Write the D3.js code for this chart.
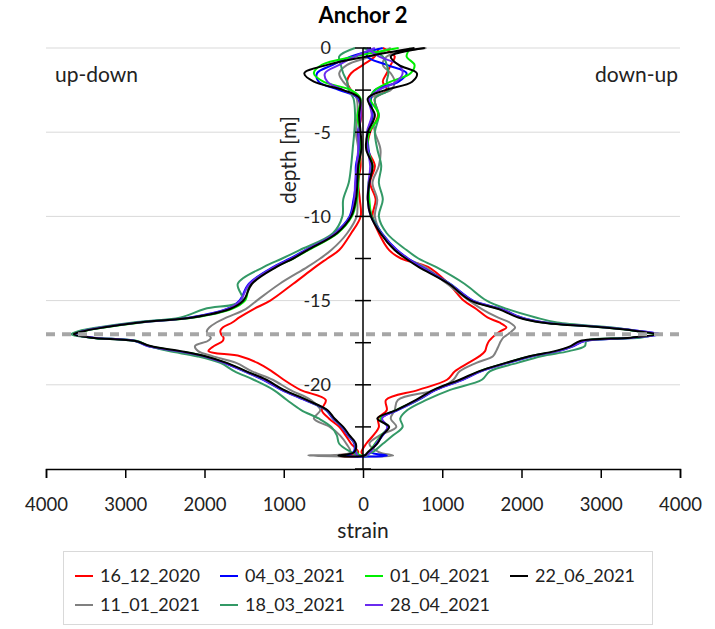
<!DOCTYPE html>
<html>
<head>
  <meta charset="utf-8">
  <title>Anchor 2</title>
  <script src="https://d3js.org/d3.v7.min.js"></script>
  <style>
    body, html { margin: 0; padding: 0; background: #fff; }
    svg { display: block; font-family: Lato, "Open Sans", sans-serif; }
    .grid line { stroke: #d9d9d9; stroke-width: 1; }
    .series { fill: none; stroke-width: 2; stroke-linejoin: round; }
  </style>
</head>
<body>
<svg width="715" height="629"></svg>
<script>
  // depth grid shared by every profile (m, negative downwards)
  const depth = [0,-0.5,-1,-1.5,-2,-2.5,-3, -4,-5,-6,-7,-8,-9,-10,
    -11,-12,-12.5,-13,-14,-15,-15.5,-16, -16.3,-16.6,-16.8,-17,-17.2,-17.4,-17.7,-18,
    -18.3,-18.7,-19.2,-19.7,-20.3,-20.9,-21.5,-22, -22.5,-23,-23.5,-24,-24.2];

  // strain: "left" = up-down branch, "right" = down-up branch
  const s16_12_2020_left = [200,150,0,-150,-200,-150,-60, -20,-60,-40,-30,-60,-40,-30,
    -150,-300,-450,-600,-880,-1170,-1380,-1560, -1650,-1770,-1800,-1790,-1760,-1770,-1880,-1950,
    -1550,-1330,-1150,-1000,-790,-470,-520,-430, -300,-220,-150,-60,-370];
  const s16_12_2020_right = [250,400,350,300,250,300,150, 190,90,60,150,90,160,120,
    200,330,480,820,1080,1270,1430,1570, 1720,1810,1740,1680,1630,1590,1560,1540,
    1470,1330,1160,1060,700,290,300,190, 200,130,40,-20,0];

  const s11_01_2021_left = [350,100,-200,-300,-250,-150,-80, -70,-90,-60,-70,-60,-70,-80,
    -200,-400,-540,-700,-1050,-1340,-1480,-1720, -1850,-1940,-1970,-1960,-1920,-1960,-2120,-2080,
    -1900,-1600,-1400,-1140,-920,-660,-540,-620, -420,-290,-210,-160,-690];
  const s11_01_2021_right = [800,300,250,350,400,350,100, 120,150,220,200,120,180,150,
    230,400,560,780,1060,1340,1500,1700, 1850,1920,1880,1830,1770,1740,1710,1680,
    1640,1430,1220,1140,920,440,400,350, 420,210,80,200,380];

  const s04_03_2021_left = [250,-150,-380,-580,-560,-300,-60, -40,-60,-50,-90,-90,-120,-170,
    -360,-730,-920,-1130,-1440,-1560,-1720,-2180, -2850,-3310,-3540,-3640,-3420,-2880,-2720,-2360,
    -2020,-1760,-1500,-1260,-1030,-740,-470,-380, -270,-190,-110,-120,-200];
  const s04_03_2021_right = [100,50,300,550,450,150,100, 120,60,70,110,80,70,110,
    240,430,570,740,1100,1390,1750,2000, 2300,3090,3490,3760,3430,2800,2660,2470,
    2140,1830,1490,1260,920,700,440,230, 310,250,170,100,300];

  const s18_03_2021_left = [-100,-300,-280,-250,-200,-180,-120, -100,-110,-130,-150,-180,-250,-260,
    -380,-800,-1020,-1250,-1580,-1520,-2000,-2300, -2900,-3350,-3580,-3680,-3440,-2880,-2700,-2450,
    -2100,-1800,-1620,-1380,-1130,-960,-780,-560, -400,-330,-300,-150,-60];
  const s18_03_2021_right = [0,250,300,320,300,320,150, 200,150,180,230,200,250,200,
    300,550,700,920,1280,1560,1820,2180, 2450,3150,3450,3680,3500,2820,2800,2600,
    2250,1950,1600,1500,1100,800,560,470, 500,380,250,120,0];

  const s01_04_2021_left = [450,-100,-520,-620,-500,-150,-30, -70,-40,-30,-50,-60,-80,-140,
    -320,-690,-880,-1100,-1420,-1490,-1660,-2130, -2800,-3270,-3510,-3640,-3420,-2850,-2700,-2330,
    -2000,-1730,-1480,-1240,-1010,-720,-460,-370, -260,-180,-100,-80,-30];
  const s01_04_2021_right = [600,550,650,600,350,150,90, 200,80,60,120,70,80,110,
    230,410,550,720,1090,1370,1730,1980, 2270,3060,3450,3700,3400,2780,2640,2450,
    2110,1810,1470,1240,900,690,420,220, 320,230,150,80,50];

  const s28_04_2021_left = [150,-100,-300,-480,-450,-250,-50, -30,-50,-60,-80,-100,-110,-160,
    -350,-720,-900,-1120,-1430,-1550,-1710,-2160, -2830,-3300,-3530,-3630,-3400,-2860,-2710,-2350,
    -2010,-1750,-1490,-1250,-1020,-730,-460,-370, -260,-180,-100,-90,-60];
  const s28_04_2021_right = [50,200,450,500,420,200,80, 110,50,60,90,70,60,100,
    230,420,560,730,1090,1380,1740,1990, 2290,3080,3480,3750,3420,2790,2650,2460,
    2120,1820,1480,1250,910,690,430,240, 310,240,160,90,40];

  const s22_06_2021_left = [650,50,-450,-740,-620,-250,-40, -50,-30,-20,-60,-70,-90,-150,
    -330,-700,-880,-1090,-1400,-1510,-1680,-2150, -2820,-3280,-3510,-3650,-3430,-2870,-2680,-2300,
    -1990,-1720,-1470,-1220,-1000,-710,-450,-360, -250,-170,-90,-110,-310];
  const s22_06_2021_right = [780,350,450,680,620,280,60, 150,60,40,120,80,60,100,
    220,400,540,700,1080,1360,1710,1960, 2250,3050,3440,3700,3380,2740,2620,2420,
    2100,1800,1460,1220,890,670,420,180, 330,240,180,60,20];

  const seriesNames = ["16_12_2020", "11_01_2021", "04_03_2021", "18_03_2021", "01_04_2021", "28_04_2021", "22_06_2021"];
  const seriesColors = ["#ff0000", "#808080", "#0000ff", "#339966", "#00ee00", "#6a2bef", "#000000"];
  const seriesLeft = [s16_12_2020_left, s11_01_2021_left, s04_03_2021_left, s18_03_2021_left, s01_04_2021_left, s28_04_2021_left, s22_06_2021_left];
  const seriesRight = [s16_12_2020_right, s11_01_2021_right, s04_03_2021_right, s18_03_2021_right, s01_04_2021_right, s28_04_2021_right, s22_06_2021_right];

  const xTicks = [-4000, -3000, -2000, -1000, 0, 1000, 2000, 3000, 4000];
  const yTicks = [0, -2.5, -5, -7.5, -10, -12.5, -15, -17.5, -20, -22.5, -25];
  const yLabels = [0, -5, -10, -15, -20];
  const markDepth = -17;
  // legend order (rows of four, as in the picture)
  const legendOrder = ["16_12_2020", "04_03_2021", "01_04_2021", "22_06_2021", "11_01_2021", "18_03_2021", "28_04_2021"];

  const svg = d3.select("svg");
  const x = d3.scaleLinear().domain([-4000, 4000]).range([46, 680]);
  const y = d3.scaleLinear().domain([0, -25]).range([48, 469]);

  // horizontal gridlines
  svg.append("g").attr("class", "grid")
    .selectAll("line").data(yLabels).join("line")
    .attr("x1", x(-4000)).attr("x2", x(4000))
    .attr("y1", d => y(d)).attr("y2", d => y(d));

  // x axis at the bottom, labels shown as magnitudes
  const xAxis = svg.append("g")
    .attr("transform", `translate(0,${y(-25)})`)
    .call(d3.axisBottom(x).tickValues(xTicks).tickSize(9).tickPadding(20)
      .tickFormat(d => Math.abs(d)));
  xAxis.select(".domain").attr("stroke", "#000").attr("stroke-width", 1.5);
  xAxis.selectAll(".tick line").attr("stroke", "#000").attr("stroke-width", 1.5);
  xAxis.selectAll("text").attr("font-size", 18.5).attr("fill", "#222").attr("font-family", "Lato");

  // profiles: down the left branch, back up the right branch
  const line = d3.line()
    .x(d => x(d[0])).y(d => y(d[1]))
    .curve(d3.curveCatmullRom.alpha(0.5));

  const plot = svg.append("g");
  seriesNames.forEach((name, k) => {
    const pts = depth.map((d, i) => [seriesLeft[k][i], d])
      .concat(depth.map((d, i) => [seriesRight[k][i], d]).reverse());
    plot.append("path")
      .attr("class", "series")
      .attr("stroke", seriesColors[k])
      .attr("stroke-width", name === "22_06_2021" ? 2.4 : 2)
      .attr("d", line(pts));
  });

  // dashed marker at the peak depth
  svg.append("line")
    .attr("x1", x(-4000)).attr("x2", x(4000))
    .attr("y1", y(markDepth)).attr("y2", y(markDepth))
    .attr("stroke", "#a6a6a6").attr("stroke-width", 4)
    .attr("stroke-dasharray", "9,7");

  // y axis through strain = 0, ticks crossing the line
  const yAxis = svg.append("g");
  yAxis.append("line")
    .attr("x1", x(0)).attr("x2", x(0))
    .attr("y1", y(0)).attr("y2", y(-25))
    .attr("stroke", "#000").attr("stroke-width", 1.5);
  yAxis.selectAll(".tk").data(yTicks).join("line")
    .attr("class", "tk")
    .attr("x1", x(0) - 8).attr("x2", x(0) + 8)
    .attr("y1", d => y(d)).attr("y2", d => y(d))
    .attr("stroke", "#000").attr("stroke-width", 1.5);
  yAxis.selectAll("text").data(yLabels).join("text")
    .attr("x", x(0) - 32).attr("y", d => y(d))
    .attr("dy", "0.35em").attr("text-anchor", "end")
    .attr("font-size", 18).attr("fill", "#222")
    .text(d => d);

  // titles and labels
  svg.append("text").attr("x", 363).attr("y", 23)
    .attr("text-anchor", "middle").attr("font-size", 22).attr("font-weight", "bold")
    .text("Anchor 2");
  svg.append("text").attr("x", 363).attr("y", 538)
    .attr("text-anchor", "middle").attr("font-size", 21).attr("fill", "#222")
    .text("strain");
  svg.append("text")
    .attr("transform", "translate(296,160) rotate(-90)")
    .attr("text-anchor", "middle").attr("font-size", 21).attr("fill", "#222")
    .text("depth [m]");
  svg.append("text").attr("x", 55).attr("y", 82)
    .attr("font-size", 21).attr("fill", "#222").text("up-down");
  svg.append("text").attr("x", 678).attr("y", 82)
    .attr("text-anchor", "end").attr("font-size", 21).attr("fill", "#222").text("down-up");

  // legend
  const legend = svg.append("g");
  legend.append("rect")
    .attr("x", 63.5).attr("y", 551.5).attr("width", 589).attr("height", 73)
    .attr("fill", "#fff").attr("stroke", "#d9d9d9");
  legendOrder.forEach((name, i) => {
    const k = seriesNames.indexOf(name);
    const col = i % 4, row = Math.floor(i / 4);
    const lx = 75 + col * 145, ly = 576 + row * 29;
    legend.append("line")
      .attr("x1", lx).attr("x2", lx + 18).attr("y1", ly).attr("y2", ly)
      .attr("stroke", seriesColors[k]).attr("stroke-width", 2);
    legend.append("text")
      .attr("x", lx + 25).attr("y", ly).attr("dy", "0.35em")
      .attr("font-size", 18).attr("fill", "#222").text(name);
  });
</script>
</body>
</html>
